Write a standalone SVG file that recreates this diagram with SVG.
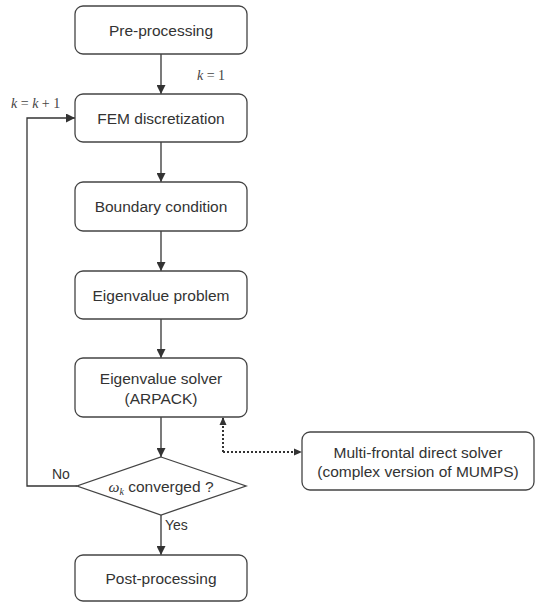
<svg xmlns="http://www.w3.org/2000/svg" width="538" height="603" viewBox="0 0 538 603">
<defs>
<marker id="ah" viewBox="0 0 10 10" refX="10" refY="5" markerWidth="9" markerHeight="9" markerUnits="userSpaceOnUse" orient="auto">
<path d="M0,0 L10,5 L0,10 z" fill="#333"/>
</marker>
<style>
.box{fill:#fff;stroke:#444;stroke-width:1.3}
.t{font-family:"Liberation Sans",Arial,sans-serif;font-size:15.5px;fill:#333;text-anchor:middle}
.s{font-family:"Liberation Sans",Arial,sans-serif;font-size:14px;fill:#333}
.m{font-family:"Liberation Serif","Times New Roman",serif;font-size:14px;fill:#444}
.c{fill:none;stroke:#333;stroke-width:1.3}
.d{fill:none;stroke:#333;stroke-width:2;stroke-dasharray:2 2}
</style>
</defs>
<rect width="538" height="603" fill="#fff"/>
<g id="connectors">
<line class="c" x1="161" y1="54" x2="161" y2="94" marker-end="url(#ah)"/>
<line class="c" x1="161" y1="142" x2="161" y2="182" marker-end="url(#ah)"/>
<line class="c" x1="161" y1="231" x2="161" y2="271" marker-end="url(#ah)"/>
<line class="c" x1="161" y1="319" x2="161" y2="358" marker-end="url(#ah)"/>
<line class="c" x1="161" y1="417" x2="161" y2="457" marker-end="url(#ah)"/>
<line class="c" x1="161" y1="515" x2="161" y2="555" marker-end="url(#ah)"/>
<polyline class="c" points="77,486 27,486 27,118 75,118" marker-end="url(#ah)"/>
<polyline class="d" points="223,452 223,418"/>
<path d="M223,417 L219.5,425 L226.5,425 z" fill="#333"/>
<polyline class="d" points="223,452 296,452"/>
<path d="M302,452 L294,448.5 L294,455.5 z" fill="#333"/>
<text class="m" x="197" y="80"><tspan font-style="italic">k</tspan> = 1</text>
<text class="m" x="11" y="108"><tspan font-style="italic">k</tspan> = <tspan font-style="italic">k</tspan> + 1</text>
<text class="s" x="52" y="479">No</text>
<text class="s" x="165" y="530">Yes</text>
</g>
<g id="pre"><rect class="box" x="75" y="6" width="172" height="48" rx="8"/><text class="t" x="161" y="35.5">Pre-processing</text></g>
<g id="fem"><rect class="box" x="75" y="94" width="172" height="48" rx="8"/><text class="t" x="161" y="123.5">FEM discretization</text></g>
<g id="bc"><rect class="box" x="75" y="182" width="172" height="49" rx="8"/><text class="t" x="161" y="212">Boundary condition</text></g>
<g id="evp"><rect class="box" x="75" y="271" width="172" height="48" rx="8"/><text class="t" x="161" y="300.5">Eigenvalue problem</text></g>
<g id="solver"><rect class="box" x="75" y="358" width="172" height="59" rx="8"/><text class="t" x="161" y="384">Eigenvalue solver</text><text class="t" x="161" y="404">(ARPACK)</text></g>
<g id="conv"><polygon class="box" points="161,457 246,486 161,515 77,486"/><text class="t" x="161" y="492"><tspan font-family="Liberation Serif,serif" font-style="italic">ω</tspan><tspan font-family="Liberation Serif,serif" font-style="italic" font-size="10" dy="3">k</tspan><tspan dy="-3"> converged ?</tspan></text></g>
<g id="post"><rect class="box" x="75" y="555" width="172" height="46" rx="8"/><text class="t" x="161" y="584">Post-processing</text></g>
<g id="mumps"><rect class="box" x="302" y="432" width="232" height="58" rx="8"/><text class="t" x="418" y="458">Multi-frontal direct solver</text><text class="t" x="418" y="477">(complex version of MUMPS)</text></g>
</svg>
